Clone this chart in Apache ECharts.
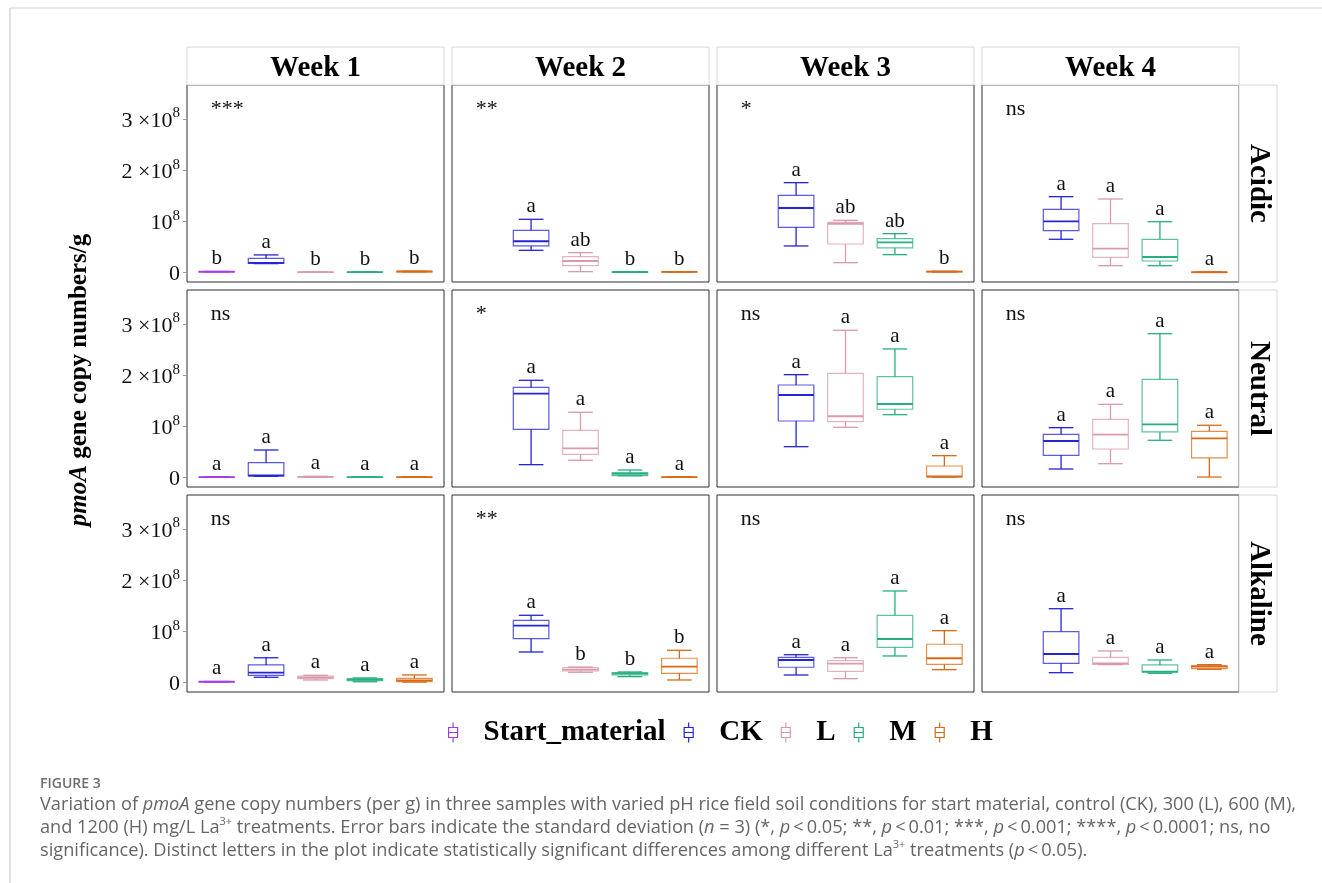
<!DOCTYPE html>
<html>
<head>
<meta charset="utf-8">
<script src="https://cdn.jsdelivr.net/npm/echarts@6/dist/echarts.min.js"></script>
<style>
html,body{margin:0;padding:0;background:#fff;}
#chart{width:1322px;height:883px;}
</style>
</head>
<body>
<div id="chart"></div>
<script>
// ---------------- DATA (values in units of 10^8 copies/g) ----------------
const weeks = ['Week 1', 'Week 2', 'Week 3', 'Week 4'];
const soils = ['Acidic', 'Neutral', 'Alkaline'];
const treatments = ['Start_material', 'CK', 'L', 'M', 'H'];
const yTickValues = [0, 1, 2, 3];
const yTickLabels = ['0', '10{s|8}', '2 ×10{s|8}', '3 ×10{s|8}'];

// each box: [min, q1, median, q3, max]; rows = weeks, columns = treatments
const acidicBoxes = [
  [[0.008,0.010,0.012,0.014,0.016],[0.170,0.176,0.185,0.274,0.340],[0.003,0.004,0.005,0.006,0.008],[0.003,0.004,0.005,0.006,0.008],[0.010,0.012,0.015,0.018,0.022]],
  [null,[0.430,0.515,0.607,0.822,1.037],[0.012,0.130,0.221,0.305,0.384],[0.003,0.004,0.006,0.008,0.010],[0.005,0.007,0.009,0.011,0.013]],
  [null,[0.515,0.880,1.258,1.507,1.754],[0.188,0.554,0.950,0.975,1.017],[0.345,0.476,0.587,0.658,0.756],[0.004,0.008,0.012,0.016,0.020]],
  [null,[0.646,0.814,0.998,1.233,1.480],[0.129,0.293,0.462,0.951,1.434],[0.129,0.221,0.299,0.646,0.990],[0.001,0.002,0.003,0.004,0.005]]
];
const neutralBoxes = [
  [[0.003,0.004,0.005,0.006,0.007],[0.020,0.025,0.035,0.286,0.534],[0.005,0.008,0.010,0.015,0.020],[0.003,0.004,0.005,0.006,0.007],[0.003,0.004,0.005,0.006,0.007]],
  [null,[0.247,0.939,1.636,1.761,1.898],[0.333,0.450,0.567,0.920,1.272],[0.030,0.031,0.065,0.090,0.143],[0.003,0.004,0.005,0.006,0.007]],
  [null,[0.599,1.102,1.610,1.806,2.008],[0.978,1.088,1.194,2.035,2.877],[1.225,1.331,1.434,1.969,2.511],[0.005,0.008,0.015,0.221,0.423]],
  [null,[0.162,0.430,0.710,0.841,0.971],[0.266,0.554,0.834,1.135,1.428],[0.724,0.887,1.037,1.918,2.810],[0.005,0.378,0.763,0.900,1.018]]
];
const alkalineBoxes = [
  [[0.008,0.010,0.012,0.014,0.016],[0.098,0.137,0.188,0.339,0.480],[0.045,0.070,0.098,0.123,0.137],[0.010,0.030,0.050,0.070,0.085],[0.005,0.012,0.039,0.078,0.143]],
  [null,[0.593,0.853,1.108,1.213,1.311],[0.196,0.221,0.247,0.286,0.299],[0.110,0.143,0.168,0.188,0.202],[0.045,0.176,0.305,0.470,0.626]],
  [null,[0.143,0.294,0.436,0.489,0.540],[0.071,0.215,0.364,0.423,0.480],[0.515,0.685,0.847,1.311,1.787],[0.247,0.352,0.470,0.744,1.010]],
  [null,[0.188,0.372,0.554,0.990,1.440],[0.345,0.352,0.370,0.489,0.613],[0.176,0.196,0.208,0.339,0.436],[0.254,0.266,0.305,0.325,0.345]]
];

const acidicLetters = [['b','a','b','b','b'],['','a','ab','b','b'],['','a','ab','ab','b'],['','a','a','a','a']];
const neutralLetters = [['a','a','a','a','a'],['','a','a','a','a'],['','a','a','a','a'],['','a','a','a','a']];
const alkalineLetters = [['a','a','a','a','a'],['','a','b','b','b'],['','a','a','a','a'],['','a','a','a','a']];

const acidicSig = ['***', '**', '*', 'ns'];
const neutralSig = ['ns', '*', 'ns', 'ns'];
const alkalineSig = ['ns', '**', 'ns', 'ns'];

// ---------------- STYLE / LAYOUT ----------------
const colors = ['#A43CEB', '#2424D4', '#D99AAA', '#27AE82', '#DB6A16'];
const SERIF = 'Liberation Serif';
const SANS = 'Open Sans';
const PANEL_LEFT0 = 187, PANEL_STEP_X = 265, PANEL_W = 257;
const PANEL_TOP0 = 85, PANEL_STEP_Y = 205, PANEL_H = 197;
const Y_MIN = -0.19, Y_MAX = 3.665;
const X_MIN = -0.6, X_MAX = 4.6;
const BOX_W = 0.72, CAP_W = 0.5;
const SIG_X = -0.12, SIG_Y = 2.98;

const boxesBySoil = [acidicBoxes, neutralBoxes, alkalineBoxes];
const lettersBySoil = [acidicLetters, neutralLetters, alkalineLetters];
const sigBySoil = [acidicSig, neutralSig, alkalineSig];

const grids = [], xAxes = [], yAxes = [], series = [];

function boxRenderer(color, letter) {
  return function (params, api) {
    const i = api.value(0);
    const band = api.size([1, 0])[0];
    const bw = band * BOX_W, cw = band * CAP_W;
    const cx = api.coord([i, 0])[0];
    const y = k => api.coord([i, api.value(k)])[1];
    const yMin = y(1), yQ1 = y(2), yMed = y(3), yQ3 = y(4), yMax = y(5);
    const ln = (x1, y1, x2, y2, w, op) => ({
      type: 'line', shape: {x1, y1, x2, y2},
      style: {stroke: color, lineWidth: w, opacity: op}
    });
    return {
      type: 'group',
      children: [
        ln(cx, yQ3, cx, yMax, 1.3, 1),
        ln(cx, yQ1, cx, yMin, 1.3, 1),
        ln(cx - cw / 2, yMax, cx + cw / 2, yMax, 1.3, 1),
        ln(cx - cw / 2, yMin, cx + cw / 2, yMin, 1.3, 1),
        {type: 'rect', shape: {x: cx - bw / 2, y: yQ3, width: bw, height: Math.max(yQ1 - yQ3, 0.5)},
         style: {fill: 'rgba(255,255,255,0)', stroke: color, lineWidth: 1.2, opacity: 0.75}},
        ln(cx - bw / 2, yMed, cx + bw / 2, yMed, 1.8, 1),
        {type: 'text', style: {text: letter, x: cx, y: yMax - 2, align: 'center', verticalAlign: 'bottom',
          fontFamily: SERIF, fontSize: 21, fill: '#111'}}
      ]
    };
  };
}

function sigRenderer(label) {
  return function (params, api) {
    const p = api.coord([SIG_X, SIG_Y]);
    return {type: 'text', style: {text: label, x: p[0], y: p[1], align: 'left', verticalAlign: 'bottom',
      fontFamily: SERIF, fontSize: 22, fill: '#111'}};
  };
}

let gi = 0;
soils.forEach((soil, r) => {
  weeks.forEach((wk, c) => {
    grids.push({
      left: PANEL_LEFT0 + c * PANEL_STEP_X, top: PANEL_TOP0 + r * PANEL_STEP_Y,
      width: PANEL_W, height: PANEL_H, show: true, borderColor: '#2e2e2e', borderWidth: 1,
      backgroundColor: 'rgba(0,0,0,0)', containLabel: false, outerBoundsMode: 'none'
    });
    xAxes.push({gridIndex: gi, type: 'value', min: X_MIN, max: X_MAX, show: false});
    const first = c === 0;
    yAxes.push({
      gridIndex: gi, type: 'value', min: Y_MIN, max: Y_MAX, position: 'left',
      axisLine: {show: false, onZero: false}, splitLine: {show: false},
      axisTick: {show: first, length: 4, lineStyle: {color: '#9a9a9a'}, customValues: yTickValues},
      axisLabel: {
        show: first, margin: 7, customValues: yTickValues, padding: [4, 0, 0, 0],
        formatter: v => yTickLabels[yTickValues.indexOf(Math.round(v))] || '',
        rich: {
          s: {fontFamily: SERIF, fontSize: 15, color: '#111', verticalAlign: 'top', lineHeight: 30}
        },
        fontFamily: SERIF, fontSize: 22, color: '#111', lineHeight: 30
      }
    });
    treatments.forEach((t, k) => {
      const b = boxesBySoil[r][c][k];
      if (!b) return;
      series.push({
        type: 'custom', name: t, xAxisIndex: gi, yAxisIndex: gi,
        itemStyle: {color: colors[k]},
        encode: {x: 0, y: [1, 2, 3, 4, 5]},
        data: [[k].concat(b)],
        renderItem: boxRenderer(colors[k], lettersBySoil[r][c][k]),
        silent: true
      });
    });
    series.push({
      type: 'custom', name: 'sig_' + gi, xAxisIndex: gi, yAxisIndex: gi,
      data: [[0, 0]], encode: {x: 0, y: 1},
      renderItem: sigRenderer(sigBySoil[r][c]), silent: true
    });
    gi++;
  });
});

const ICON = 'path://M4.5,0 L4.5,5 M0,5 L9,5 L9,15 L0,15 Z M0,10 L9,10 M4.5,15 L4.5,20';

const graphic = [];
// page frame lines
graphic.push({type: 'line', shape: {x1: 10, y1: 8, x2: 1322, y2: 8}, style: {stroke: '#cfcfcf', lineWidth: 1.2}, silent: true});
graphic.push({type: 'line', shape: {x1: 10, y1: 8, x2: 10, y2: 883}, style: {stroke: '#cfcfcf', lineWidth: 1.2}, silent: true});
// top strips
weeks.forEach((wk, c) => {
  const x = PANEL_LEFT0 + c * PANEL_STEP_X;
  graphic.push({type: 'rect', shape: {x: x, y: 47, width: PANEL_W, height: 38},
    style: {fill: '#fff', stroke: '#d6d6d6', lineWidth: 1}, silent: true});
  graphic.push({type: 'text', x: x + PANEL_W / 2, y: 69, silent: true,
    style: {text: wk, align: 'center', verticalAlign: 'middle', fontFamily: SERIF, fontWeight: 'bold', fontSize: 29, fill: '#000'}});
});
// right strips
soils.forEach((s, r) => {
  const y = PANEL_TOP0 + r * PANEL_STEP_Y;
  const x = PANEL_LEFT0 + 3 * PANEL_STEP_X + PANEL_W;
  graphic.push({type: 'rect', shape: {x: x, y: y, width: 38, height: PANEL_H},
    style: {fill: '#fff', stroke: '#d6d6d6', lineWidth: 1}, silent: true});
  graphic.push({type: 'text', x: x + 19, y: y + PANEL_H / 2, rotation: -Math.PI / 2, silent: true,
    style: {text: s, align: 'center', verticalAlign: 'middle', fontFamily: SERIF, fontWeight: 'bold', fontSize: 29, fill: '#000'}});
});
// y axis title
graphic.push({type: 'text', x: 80, y: 380, rotation: Math.PI / 2, silent: true,
  style: {text: '{i|pmoA} gene copy numbers/g', align: 'center', verticalAlign: 'middle',
    fontFamily: SERIF, fontWeight: 'bold', fontSize: 25, fill: '#000',
    rich: {i: {fontFamily: SERIF, fontWeight: 'bold', fontStyle: 'italic', fontSize: 25, fill: '#000'}}}});
// caption
const CAP_FS = 18.2;
const capRich = {
  i: {fontFamily: SANS, fontStyle: 'italic', fontSize: CAP_FS, fill: '#666', lineHeight: 24},
  sup: {fontFamily: SANS, fontSize: 11, fill: '#666', verticalAlign: 'top', lineHeight: 24}
};
graphic.push({type: 'text', x: 40, y: 784, silent: true,
  style: {text: 'FIGURE 3', fontFamily: SANS, fontWeight: 600, fontSize: 14, fill: '#6e6e6e', verticalAlign: 'middle'}});
const capLines = [
  'Variation of {i|pmoA} gene copy numbers (per g) in three samples with varied pH rice field soil conditions for start material, control (CK), 300 (L), 600 (M),',
  'and 1200 (H) mg/L La{sup|3+} treatments. Error bars indicate the standard deviation ({i|n} = 3) (*, {i|p}\u2009<\u20090.05; **, {i|p}\u2009<\u20090.01; ***, {i|p}\u2009<\u20090.001; ****, {i|p}\u2009<\u20090.0001; ns, no',
  'significance). Distinct letters in the plot indicate statistically significant differences among different La{sup|3+} treatments ({i|p}\u2009<\u20090.05).'
];
capLines.forEach((t, j) => {
  graphic.push({type: 'text', x: 40, y: 805 + j * 23, silent: true,
    style: {text: t, fontFamily: SANS, fontSize: CAP_FS, fill: '#666', verticalAlign: 'middle', lineHeight: 24, rich: capRich}});
});

const option = {
  animation: false,
  backgroundColor: '#fff',
  grid: grids,
  xAxis: xAxes,
  yAxis: yAxes,
  legend: {
    left: 448, top: 718, padding: 0, itemWidth: 9, itemHeight: 20, itemGap: 18,
    selectedMode: false,
    data: treatments.map((t, k) => ({
      name: t, icon: ICON,
      itemStyle: {color: 'rgba(255,255,255,0)', borderColor: colors[k], borderWidth: 1.2}
    })),
    textStyle: {fontFamily: SERIF, fontWeight: 'bold', fontSize: 29, color: '#000', padding: [0, 0, 0, 21]}
  },
  series: series,
  graphic: graphic
};

const chart = echarts.init(document.getElementById('chart'), null, {renderer: 'canvas'});
chart.setOption(option);
</script>
</body>
</html>
